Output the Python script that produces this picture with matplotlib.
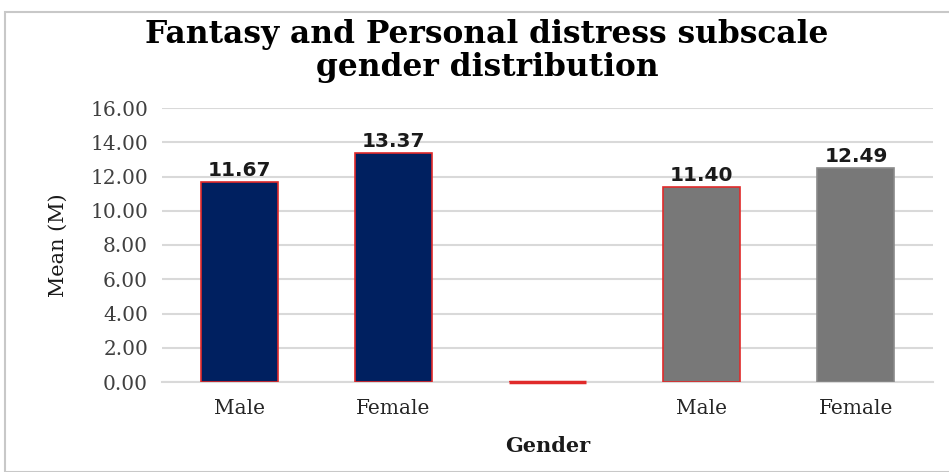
import matplotlib
matplotlib.use('Agg')
import matplotlib.pyplot as plt
from matplotlib.patches import Rectangle

# data
categories = ['Male', 'Female', '', 'Male', 'Female']
means = [11.67, 13.37, 0.0, 11.40, 12.49]
labels = ['11.67', '13.37', '', '11.40', '12.49']
colors = ['#002060', '#002060', 'none', '#787878', '#787878']
edges = ['#e02a2a', '#e02a2a', '#e02a2a', '#e02a2a', '#8a8a8a']
yticks = [0, 2, 4, 6, 8, 10, 12, 14, 16]

# the reference text is a wide serif, DejaVu Serif is closest in width
plt.rcParams['font.family'] = ['DejaVu Serif']

fig = plt.figure(figsize=(9.49, 4.72), dpi=100)
# outer chart frame
fig.patches.append(Rectangle((5 / 949, 0), 1, 1 - 12 / 472, transform=fig.transFigure,
                             fill=False, edgecolor='#c8c8c8', linewidth=1.5))

ax = fig.add_axes([162 / 949, 1 - 382 / 472, 771 / 949, 274 / 472])
x = list(range(len(categories)))
bars = ax.bar(x, means, width=0.5, color=colors, edgecolor=edges, linewidth=1.2, zorder=3)
# zero height bar only shows as its red outline
for b, v, ec in zip(bars, means, edges):
    if v == 0:
        ax.hlines(0, b.get_x(), b.get_x() + b.get_width(), colors=ec, linewidth=2.5,
                  zorder=5, clip_on=False)
for i, v in enumerate(means):
    if labels[i]:
        ax.text(i, v + 0.1, labels[i], ha='center', va='bottom', fontsize=14.5,
                fontweight='bold', family='DejaVu Sans', color='#1a1a1a')

ax.set_xlim(-0.5, len(categories) - 0.5)
ax.set_ylim(0, 16)
ax.set_yticks(yticks)
ax.set_yticklabels(['{:.2f}'.format(t) for t in yticks], fontsize=14.5, color='#404040')
ax.set_xticks(x)
ax.set_xticklabels(categories, fontsize=14.5, color='#262626')
ax.tick_params(axis='y', length=0, pad=10)
ax.tick_params(axis='x', length=0, pad=12)
ax.grid(axis='y', color='#d9d9d9', linewidth=1.5, zorder=0)
for s in ['top', 'right', 'left']:
    ax.spines[s].set_visible(False)
ax.spines['bottom'].set_color('#d9d9d9')
ax.spines['bottom'].set_linewidth(1.5)

ax.set_ylabel('Mean (M)', fontsize=15, color='#1a1a1a', labelpad=16)
ax.set_xlabel('Gender', fontsize=15, fontweight='bold', color='#1a1a1a', labelpad=13)
fig.text(0.513, 1 - 51 / 472, 'Fantasy and Personal distress subscale\ngender distribution',
         ha='center', va='center', fontsize=22.5, fontweight='bold', linespacing=1.1)

fig.savefig('out.png', dpi=100)
